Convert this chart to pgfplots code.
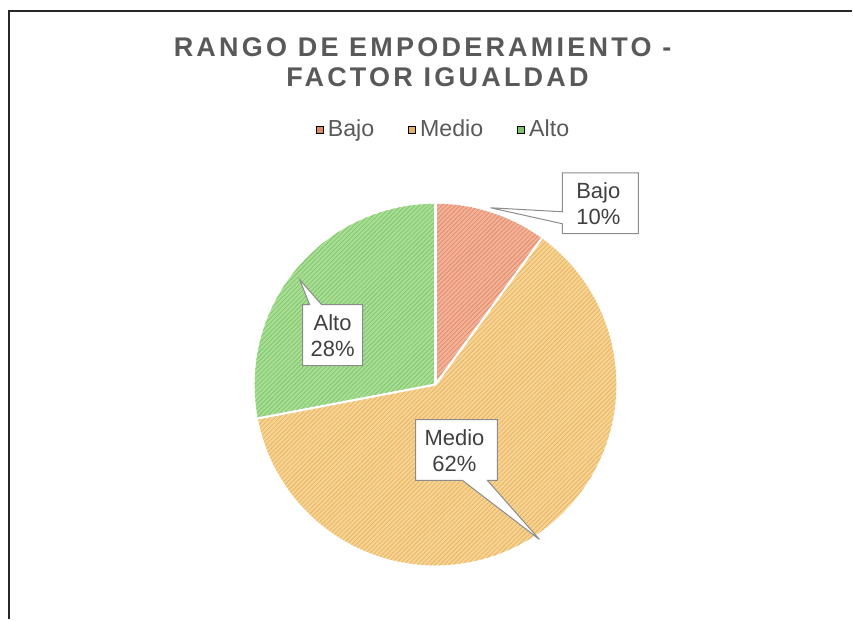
\documentclass[border=0pt]{standalone}
\usepackage{fontspec}
\setmainfont{Liberation Sans}
\usepackage{pgfplots}
\pgfplotsset{compat=1.18}
\usetikzlibrary{patterns.meta}

\definecolor{titlegray}{HTML}{595959}
\definecolor{labelgray}{HTML}{404040}
\definecolor{boxgray}{HTML}{8C8C8C}
\definecolor{bajoF}{HTML}{F4B398}
\definecolor{bajoS}{HTML}{E08A6A}
\definecolor{medioF}{HTML}{F8D493}
\definecolor{medioS}{HTML}{E6B263}
\definecolor{altoF}{HTML}{A9DF95}
\definecolor{altoS}{HTML}{7FC46C}

% shares in percent
\def\vBajo{10}
\def\vMedio{62}
\def\vAlto{28}
\pgfmathsetmacro\aA{90}
\pgfmathsetmacro\aB{\aA-3.6*\vBajo}
\pgfmathsetmacro\aC{\aB-3.6*\vMedio}
\pgfmathsetmacro\aD{\aC-3.6*\vAlto}
\def\R{90.5pt}

\pgfplotsset{
  legsq/.style={legend image code/.code={\fill[##1] (0pt,-1.8pt) rectangle (3.6pt,1.8pt);}},
}

\begin{document}
\begin{tikzpicture}
\begin{axis}[
    width=426.5pt, height=310pt, scale only axis,
    xmin=0, xmax=853, ymin=0, ymax=620, y dir=reverse,
    hide axis, clip=false,
    legend style={at={(axis cs:445,130)}, anchor=center, draw=none, fill=none,
        font=\fontsize{11.6pt}{13pt}\selectfont, text=titlegray,
        /tikz/every even column/.append style={column sep=15pt}},
    legend columns=3,
]
\path (axis cs:0,0) (axis cs:853,620);

% frame
\draw[line width=1pt, black!85] (axis cs:853,11) -- (axis cs:9,11) -- (axis cs:9,620);

% title
\node[anchor=base, text=titlegray, font=\fontsize{13.5pt}{15pt}\selectfont\bfseries\addfontfeature{LetterSpace=12}]
    at (axis cs:423,57) {RANGO DE EMPODERAMIENTO -};
\node[anchor=base, text=titlegray, font=\fontsize{13.5pt}{15pt}\selectfont\bfseries\addfontfeature{LetterSpace=12}]
    at (axis cs:438,87) {FACTOR IGUALDAD};

% pie
\path[fill=bajoF, postaction={pattern={Lines[angle=45,distance=1.6pt,line width=0.4pt]}, pattern color=bajoS}]
    (axis cs:436,385) -- ++(\aA:\R) arc[start angle=\aA, end angle=\aB, radius=\R] -- cycle;
\path[fill=medioF, postaction={pattern={Lines[angle=45,distance=1.6pt,line width=0.4pt]}, pattern color=medioS}]
    (axis cs:436,385) -- ++(\aB:\R) arc[start angle=\aB, end angle=\aC, radius=\R] -- cycle;
\path[fill=altoF, postaction={pattern={Lines[angle=45,distance=1.6pt,line width=0.4pt]}, pattern color=altoS}]
    (axis cs:436,385) -- ++(\aC:\R) arc[start angle=\aC, end angle=\aD, radius=\R] -- cycle;
\draw[white, line width=1.1pt] (axis cs:436,385) -- ++(\aA:\R);
\draw[white, line width=1.1pt] (axis cs:436,385) -- ++(\aB:\R);
\draw[white, line width=1.1pt] (axis cs:436,385) -- ++(\aC:\R);

% data label callouts
\draw[boxgray, fill=white, line width=0.5pt]
    (axis cs:563,173) -- (axis cs:639,173) -- (axis cs:639,234) -- (axis cs:563,234)
    -- (axis cs:563,224) -- (axis cs:491,208) -- (axis cs:563,212) -- cycle;
\node[align=center, text=labelgray, font=\fontsize{11pt}{12.8pt}\selectfont]
    at (axis cs:599,204) {Bajo\\10\%};

\draw[boxgray, fill=white, line width=0.5pt]
    (axis cs:303,305) -- (axis cs:310,305) -- (axis cs:300,280) -- (axis cs:322,305)
    -- (axis cs:363,305) -- (axis cs:363,366) -- (axis cs:303,366) -- cycle;
\node[align=center, text=labelgray, font=\fontsize{11pt}{12.8pt}\selectfont]
    at (axis cs:333,336) {Alto\\28\%};

\draw[boxgray, fill=white, line width=0.5pt]
    (axis cs:416,420) -- (axis cs:498,420) -- (axis cs:498,481) -- (axis cs:488,481)
    -- (axis cs:540,540) -- (axis cs:463,481) -- (axis cs:416,481) -- cycle;
\node[align=center, text=labelgray, font=\fontsize{11pt}{12.8pt}\selectfont]
    at (axis cs:455,451) {Medio\\62\%};

% legend
\addlegendimage{legsq, fill=bajoS}
\addlegendentry{Bajo}
\addlegendimage{legsq, fill=medioS}
\addlegendentry{Medio}
\addlegendimage{legsq, fill=altoS}
\addlegendentry{Alto}
\end{axis}
\end{tikzpicture}
\end{document}
